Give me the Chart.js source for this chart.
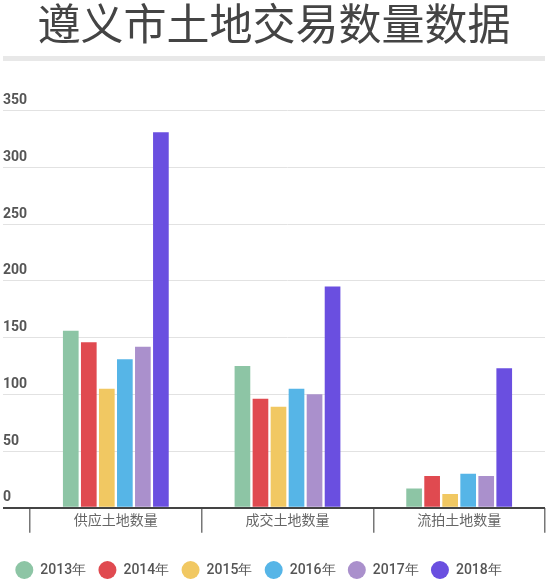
<!DOCTYPE html>
<html>
<head>
<meta charset="utf-8">
<script src="https://cdn.jsdelivr.net/npm/chart.js@4.4.1/dist/chart.umd.min.js"></script>
<style>
  html, body { margin: 0; padding: 0; background: #fff; }
  #wrap { position: relative; width: 550px; height: 579px; }
  #bar { position: absolute; left: 3px; top: 56px; width: 542px; height: 5px; background: #e8e8e8; }
</style>
</head>
<body>
<div id="wrap">
  <div id="bar"></div>
  <canvas id="landChart"></canvas>
</div>
<script>
// categories + yearly series
const categories = ['供应土地数量', '成交土地数量', '流拍土地数量'];
const years = ['2013年', '2014年', '2015年', '2016年', '2017年', '2018年'];
const y2013 = [156, 125, 17];
const y2014 = [146, 96, 28];
const y2015 = [105, 89, 12];
const y2016 = [131, 105, 30];
const y2017 = [142, 100, 28];
const y2018 = [331, 195, 123];
const yTicks = [0, 50, 100, 150, 200, 250, 300, 350];

const colors = ['#8dc5a5', '#e04a50', '#f1c862', '#56b5e7', '#aa90cc', '#6a4fe0'];
const series = [y2013, y2014, y2015, y2016, y2017, y2018];

document.addEventListener('DOMContentLoaded', function () {
    const ctx = document.getElementById('landChart');

    new Chart(ctx, {
        type: 'bar',
        data: {
            labels: categories,
            datasets: series.map((vals, i) => ({
                label: years[i],
                data: vals,
                backgroundColor: colors[i],
                borderWidth: 0,
                barPercentage: 0.87,
                categoryPercentage: 0.63
            }))
        },
        options: {
            responsive: true,
            maintainAspectRatio: false,
            animation: false,
            layout: { padding: { left: 3, right: 5, top: 0, bottom: -8 } },
            plugins: {
                title: {
                    display: true,
                    text: '遵义市土地交易数量数据',
                    color: '#444',
                    font: { family: 'Noto Sans CJK SC', size: 43, weight: 'normal', lineHeight: 1.1 },
                    padding: { top: 0, bottom: 63.5 }
                },
                legend: {
                    position: 'bottom',
                    align: 'start',
                    labels: {
                        usePointStyle: true,
                        pointStyle: 'circle',
                        boxHeight: 12.73,
                        pointStyleWidth: 18,
                        padding: 12.3,
                        color: '#555',
                        font: { family: 'Roboto', size: 14, weight: 500 }
                    }
                },
                tooltip: { enabled: false }
            },
            scales: {
                x: {
                    border: { display: false },
                    afterFit: s => { s.height = 43; },
                    grid: {
                        offset: true,
                        drawOnChartArea: false,
                        tickLength: 25,
                        color: '#777',
                        lineWidth: 1.5
                    },
                    ticks: {
                        padding: -21,
                        color: '#666',
                        font: { family: 'Noto Sans CJK SC', size: 14 }
                    }
                },
                y: {
                    min: 0,
                    max: 350,
                    afterFit: s => { s.width = 27; },
                    afterBuildTicks: s => { s.ticks = yTicks.map(v => ({ value: v })); },
                    border: { display: false },
                    grid: {
                        tickLength: 27,
                        color: c => (c.tick && c.tick.value === 0) ? '#444' : '#e2e2e2',
                        lineWidth: c => (c.tick && c.tick.value === 0) ? 2 : 1
                    },
                    ticks: {
                        crossAlign: 'far',
                        labelOffset: -10,
                        color: '#555',
                        font: { family: 'Roboto', size: 14, weight: 'bold' }
                    }
                }
            }
        }
    });
});
</script>
</body>
</html>
